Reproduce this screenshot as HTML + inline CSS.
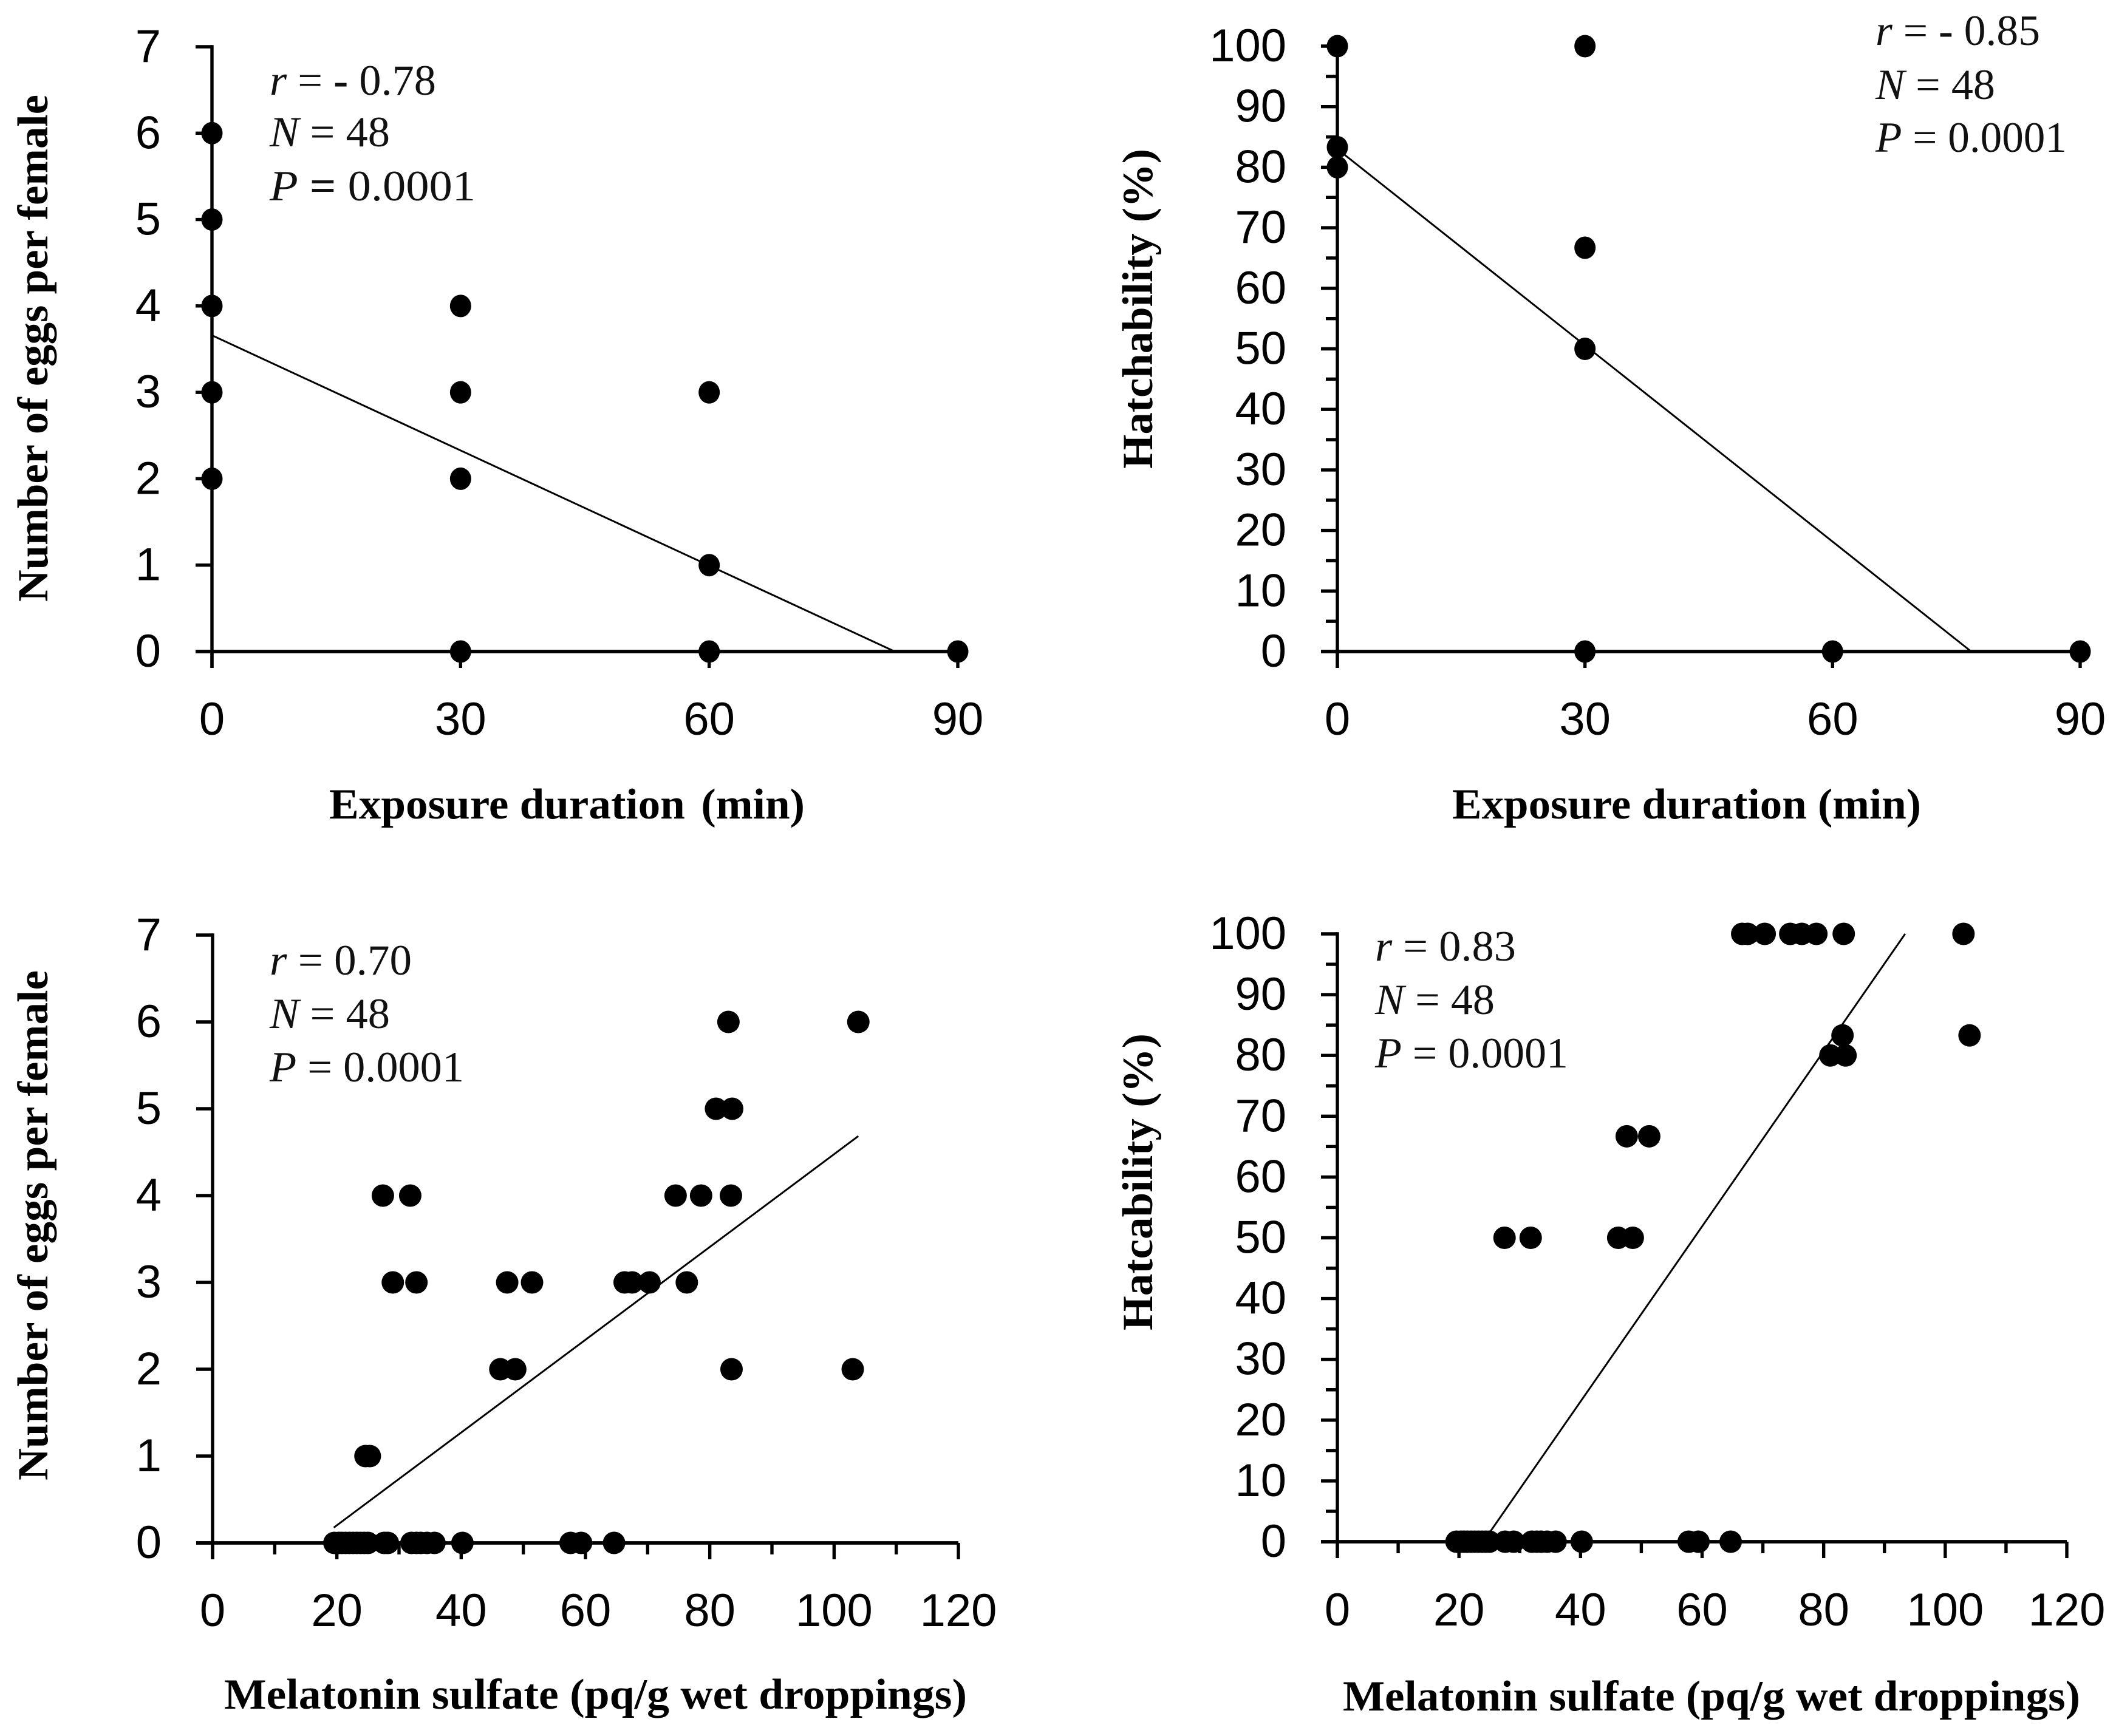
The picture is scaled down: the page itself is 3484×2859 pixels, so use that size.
<!DOCTYPE html>
<html lang="en">
<head>
<meta charset="utf-8">
<title>Melatonin and reproduction scatter plots</title>
<style>
html,body{margin:0;padding:0;background:#fff;}
svg{display:block;}
.axis-title{font-family:"Liberation Serif",serif;font-weight:bold;font-size:71px;fill:#000;}
.note{font-family:"Liberation Serif",serif;font-size:71px;fill:#111;}
.note .i{font-style:italic;}
.note .b{font-weight:bold;}
.tick-label{font-family:"Liberation Sans",sans-serif;font-size:76px;fill:#000;}
</style>
</head>
<body>
<svg id="figure" xmlns="http://www.w3.org/2000/svg" width="3484" height="2859" viewBox="0 0 3484 2859">
  <rect x="0" y="0" width="3484" height="2859" fill="#fff"/>

  <g id="panel-a">
    <text class="axis-title" x="542" y="1348" textLength="783" lengthAdjust="spacingAndGlyphs">Exposure duration <tspan dx="8">(min)</tspan></text>
    <text class="axis-title" transform="translate(78,991) rotate(-90)" textLength="835" lengthAdjust="spacingAndGlyphs">Number of eggs per female</text>
    <text class="note" x="444" y="156" textLength="274" lengthAdjust="spacingAndGlyphs"><tspan class="i">r</tspan> = <tspan class="b">-</tspan> 0.78</text>
    <text class="note" x="444" y="241" textLength="198" lengthAdjust="spacingAndGlyphs"><tspan class="i">N</tspan> = 48</text>
    <text class="note" x="444" y="330" textLength="339" lengthAdjust="spacingAndGlyphs"><tspan class="i">P</tspan> <tspan class="b">=</tspan> 0.0001</text>
  </g>

  <g id="panel-b">
    <text class="axis-title" x="2391" y="1348" textLength="772" lengthAdjust="spacingAndGlyphs">Exposure duration (min)</text>
    <text class="axis-title" transform="translate(1897,772) rotate(-90)" textLength="527" lengthAdjust="spacingAndGlyphs">Hatchability (%)</text>
    <text class="note" x="3088" y="74" textLength="271" lengthAdjust="spacingAndGlyphs"><tspan class="i">r</tspan> = <tspan class="b">-</tspan> 0.85</text>
    <text class="note" x="3088" y="163" textLength="197" lengthAdjust="spacingAndGlyphs"><tspan class="i">N</tspan> = 48</text>
    <text class="note" x="3088" y="250" textLength="315" lengthAdjust="spacingAndGlyphs"><tspan class="i">P</tspan> = 0.0001</text>
  </g>

  <g id="panel-c">
    <text class="axis-title" x="369" y="2814" textLength="1223" lengthAdjust="spacingAndGlyphs">Melatonin sulfate (pq/g wet droppings)</text>
    <text class="axis-title" transform="translate(78,2438) rotate(-90)" textLength="840" lengthAdjust="spacingAndGlyphs">Number of eggs per female</text>
    <text class="note" x="444" y="1605" textLength="234" lengthAdjust="spacingAndGlyphs"><tspan class="i">r</tspan> = 0.70</text>
    <text class="note" x="444" y="1693" textLength="198" lengthAdjust="spacingAndGlyphs"><tspan class="i">N</tspan> = 48</text>
    <text class="note" x="444" y="1781" textLength="320" lengthAdjust="spacingAndGlyphs"><tspan class="i">P</tspan> = 0.0001</text>
  </g>

  <g id="panel-d">
    <text class="axis-title" x="2211" y="2817" textLength="1214" lengthAdjust="spacingAndGlyphs">Melatonin sulfate (pq/g wet droppings)</text>
    <text class="axis-title" transform="translate(1897,2191) rotate(-90)" textLength="489" lengthAdjust="spacingAndGlyphs">Hatcability (%)</text>
    <text class="note" x="2264" y="1582" textLength="232" lengthAdjust="spacingAndGlyphs"><tspan class="i">r</tspan> = 0.83</text>
    <text class="note" x="2264" y="1670" textLength="197" lengthAdjust="spacingAndGlyphs"><tspan class="i">N</tspan> = 48</text>
    <text class="note" x="2264" y="1758" textLength="318" lengthAdjust="spacingAndGlyphs"><tspan class="i">P</tspan> = 0.0001</text>
  </g>
</svg>

<script>
// Tick values
var durationTicks = [0, 30, 60, 90];
var melatoninTicks = [0, 20, 40, 60, 80, 100, 120];
var melatoninMinorTicks = [10, 30, 50, 70, 90, 110];
var eggTicks = [0, 1, 2, 3, 4, 5, 6, 7];
var hatchTicks = [0, 10, 20, 30, 40, 50, 60, 70, 80, 90, 100];
var hatchMinorTicks = [5, 15, 25, 35, 45, 55, 65, 75, 85, 95];
var noMinorTicks = [];

// Panel A: eggs per female vs exposure duration
var panelADuration = [0, 0, 0, 0, 0, 30, 30, 30, 30, 60, 60, 60, 90];
var panelAEggs = [6, 5, 4, 3, 2, 4, 3, 2, 0, 3, 1, 0, 0];
var panelATrendX = [0, 82.4];
var panelATrendY = [3.66, 0];

// Panel B: hatchability vs exposure duration
var panelBDuration = [0, 0, 0, 30, 30, 30, 30, 60, 90];
var panelBHatch = [100, 83.3, 80, 100, 66.7, 50, 0, 0, 0];
var panelBTrendX = [0, 76.8];
var panelBTrendY = [83, 0];

// Panel C: eggs per female vs melatonin sulfate
var panelCMelatonin = [83, 103.9, 81, 83.6, 27.4, 31.8, 74.5, 78.6, 83.4, 29, 32.8, 47.4, 51.4, 66.3, 67.5, 70.3, 76.3, 46.3, 48.7, 83.5, 103, 24.6, 25.3,
  19.6, 20.3, 20.8, 21.4, 22, 22.6, 23.2, 23.8, 24.4, 25, 27.6, 28.2, 32, 32.8, 33.5, 34.5, 35.7, 40.2, 57.6, 59.3, 64.6];
var panelCEggs = [6, 6, 5, 5, 4, 4, 4, 4, 4, 3, 3, 3, 3, 3, 3, 3, 3, 2, 2, 2, 2, 1, 1,
  0, 0, 0, 0, 0, 0, 0, 0, 0, 0, 0, 0, 0, 0, 0, 0, 0, 0, 0, 0, 0];
var panelCTrendX = [19.5, 103.9];
var panelCTrendY = [0.176, 4.685];

// Panel D: hatchability vs melatonin sulfate
var panelDMelatonin = [66.6, 67.5, 70.3, 74.5, 76.4, 78.8, 83.3, 103, 83.1, 104, 81.1, 83.6, 47.6, 51.3, 27.5, 31.8, 46.2, 48.6,
  19.6, 20.3, 20.8, 21.4, 22, 22.6, 23.2, 23.8, 24.4, 25, 27.6, 29, 32, 32.8, 33.5, 34.5, 35.9, 40.2, 57.8, 59.4, 64.7];
var panelDHatch = [100, 100, 100, 100, 100, 100, 100, 100, 83.3, 83.3, 80, 80, 66.7, 66.7, 50, 50, 50, 50,
  0, 0, 0, 0, 0, 0, 0, 0, 0, 0, 0, 0, 0, 0, 0, 0, 0, 0, 0, 0, 0];
var panelDTrendX = [24, 93.4];
var panelDTrendY = [0, 100];

var SVG_NS = 'http://www.w3.org/2000/svg';

function makeScale(d0, d1, p0, p1) {
  return function (v) { return p0 + (v - d0) / (d1 - d0) * (p1 - p0); };
}

function addLine(parent, x1, y1, x2, y2, w) {
  var l = document.createElementNS(SVG_NS, 'line');
  l.setAttribute('x1', x1);
  l.setAttribute('y1', y1);
  l.setAttribute('x2', x2);
  l.setAttribute('y2', y2);
  l.setAttribute('stroke', '#000');
  l.setAttribute('stroke-width', w);
  parent.appendChild(l);
  return l;
}

function addLabel(parent, x, y, anchor, str) {
  var t = document.createElementNS(SVG_NS, 'text');
  t.setAttribute('class', 'tick-label');
  t.setAttribute('x', x);
  t.setAttribute('y', y);
  t.setAttribute('text-anchor', anchor);
  t.textContent = str;
  parent.appendChild(t);
  return t;
}

function drawPanel(id, box, xTicks, xMinor, yTicks, yMinor, xs, ys, trendX, trendY) {
  var g = document.getElementById(id);
  var sx = makeScale(xTicks[0], xTicks[xTicks.length - 1], box.left, box.right);
  var sy = makeScale(yTicks[0], yTicks[yTicks.length - 1], box.bottom, box.top);
  var major = 27, minor = 19, tickW = 5.4;
  var i, el;

  el = addLine(g, box.left, box.top - 2.7, box.left, box.bottom + major, 5.4);
  
  
  el = addLine(g, box.left - major, box.bottom, box.right, box.bottom, 5.8);
  
  

  for (i = 0; i < yTicks.length; i++) {
    el = addLine(g, box.left - major, sy(yTicks[i]), box.left, sy(yTicks[i]), tickW);
    
    
    el = addLabel(g, box.left - 84, sy(yTicks[i]) + 25, 'end', String(yTicks[i]));
    
    
  }
  for (i = 0; i < yMinor.length; i++) {
    el = addLine(g, box.left - minor, sy(yMinor[i]), box.left, sy(yMinor[i]), tickW);
    
    
  }
  for (i = 0; i < xTicks.length; i++) {
    el = addLine(g, sx(xTicks[i]), box.bottom, sx(xTicks[i]), box.bottom + major, tickW);
    
    
    el = addLabel(g, sx(xTicks[i]), box.labelY, 'middle', String(xTicks[i]));
    
    
  }
  for (i = 0; i < xMinor.length; i++) {
    el = addLine(g, sx(xMinor[i]), box.bottom, sx(xMinor[i]), box.bottom + minor, tickW);
    
    
  }

  el = addLine(g, sx(trendX[0]), sy(trendY[0]), sx(trendX[1]), sy(trendY[1]), 3);
  
  

  for (i = 0; i < xs.length; i++) {
    var c = document.createElementNS(SVG_NS, 'ellipse');
    c.setAttribute('cx', sx(xs[i]));
    c.setAttribute('cy', sy(ys[i]));
    c.setAttribute('rx', box.dotRx);
    c.setAttribute('ry', 18.5);
    c.setAttribute('fill', '#000');
    
    
    g.appendChild(c);
  }
}

drawPanel('panel-a', {left: 349, right: 1577, top: 77, bottom: 1073, labelY: 1210, dotRx: 17.5},
  durationTicks, noMinorTicks, eggTicks, noMinorTicks, panelADuration, panelAEggs, panelATrendX, panelATrendY);
drawPanel('panel-b', {left: 2202, right: 3425, top: 76, bottom: 1073, labelY: 1210, dotRx: 17.5},
  durationTicks, noMinorTicks, hatchTicks, hatchMinorTicks, panelBDuration, panelBHatch, panelBTrendX, panelBTrendY);
drawPanel('panel-c', {left: 350, right: 1578, top: 1540, bottom: 2541, labelY: 2678, dotRx: 18.5},
  melatoninTicks, melatoninMinorTicks, eggTicks, noMinorTicks, panelCMelatonin, panelCEggs, panelCTrendX, panelCTrendY);
drawPanel('panel-d', {left: 2202, right: 3403, top: 1538, bottom: 2539, labelY: 2677, dotRx: 18.5},
  melatoninTicks, melatoninMinorTicks, hatchTicks, hatchMinorTicks, panelDMelatonin, panelDHatch, panelDTrendX, panelDTrendY);
</script>
</body>
</html>
